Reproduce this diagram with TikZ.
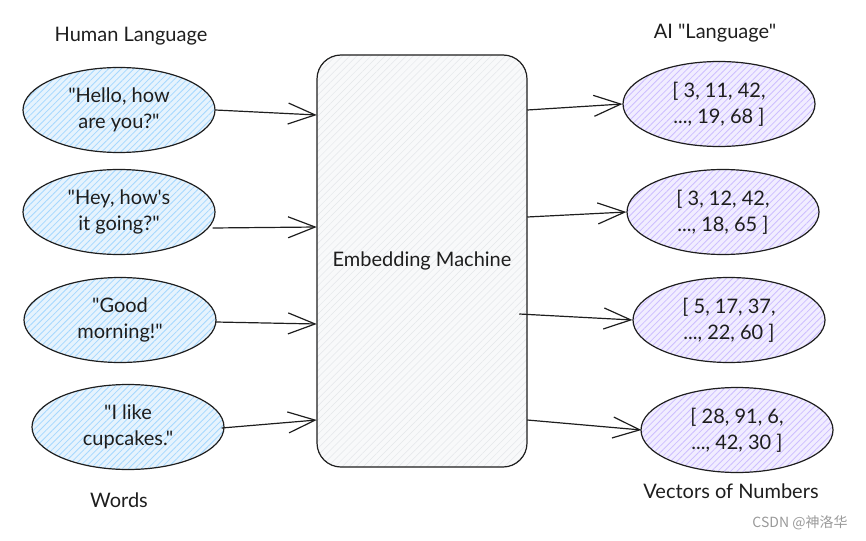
\documentclass[tikz,border=0pt]{standalone}
\usepackage{fontspec}
\setmainfont{Lato}[Ligatures=TeXOff]
\newfontfamily\cjkfont{Noto Sans CJK SC}
\usetikzlibrary{shapes.geometric,arrows.meta,patterns.meta}
\definecolor{ink}{HTML}{1E1E1E}
\definecolor{blueFill}{HTML}{E6F3FD}
\definecolor{blueHatch}{HTML}{A5D8FF}
\definecolor{violetFill}{HTML}{F1EDFF}
\definecolor{violetHatch}{HTML}{CDBEFF}
\definecolor{boxFill}{HTML}{F8F9FA}
\definecolor{boxHatch}{HTML}{E4E7EA}
\definecolor{markGray}{HTML}{999999}
\begin{document}
\begin{tikzpicture}[x=1pt,y=-1pt,
  font=\fontsize{20}{26}\selectfont, text=ink,
  blob/.style={ellipse, draw=ink, line width=1.2pt,
    minimum width=192pt, minimum height=85pt, inner sep=0pt, align=center},
  phrase/.style={blob, preaction={fill=blueFill},
    pattern={Lines[angle=45,distance=4.5pt,line width=0.8pt]}, pattern color=blueHatch},
  vector/.style={blob, preaction={fill=violetFill},
    pattern={Lines[angle=45,distance=4.5pt,line width=0.8pt]}, pattern color=violetHatch},
  machine/.style={draw=ink, line width=1.2pt, rounded corners=24pt,
    minimum width=210pt, minimum height=412pt, preaction={fill=boxFill},
    pattern={Lines[angle=45,distance=5pt,line width=0.5pt]}, pattern color=boxHatch},
  caption/.style={inner sep=0pt},
  arr/.style={draw=ink, line width=1.2pt,
    -{Straight Barb[length=27pt,width=21pt]}},
]
\useasboundingbox (0,0) rectangle (866,540);

% column headings and footers
\node[caption] (tHuman) at (131,36) {Human Language};
\node[caption] (tAI) at (715,33) {AI "Language"};
\node[caption] (tWords) at (119,500) {Words};
\node[caption] (tVectors) at (731,491) {Vectors of Numbers};

% central machine
\node[machine] (em) at (422,261) {Embedding Machine};

% human phrases
\node[phrase] (h1) at (119,110) {"Hello, how\\are you?"};
\node[phrase] (h2) at (119,212) {"Hey, how's\\it going?"};
\node[phrase] (h3) at (120,320) {"Good\\morning!"};
\node[phrase] (h4) at (128,427) {"I like\\cupcakes."};

% embedding vectors
\node[vector] (v1) at (719,104) {[ 3, 11, 42,\\..., 19, 68 ]};
\node[vector] (v2) at (723,212) {[ 3, 12, 42,\\..., 18, 65 ]};
\node[vector] (v3) at (729,320) {[ 5, 17, 37,\\..., 22, 60 ]};
\node[vector] (v4) at (737,430) {[ 28, 91, 6,\\..., 42, 30 ]};

% entry and exit points on the machine's sides
\coordinate (in1) at (em.west |- 0,115);
\coordinate (in2) at (em.west |- 0,227);
\coordinate (in3) at (em.west |- 0,324);
\coordinate (in4) at (em.west |- 0,420);
\coordinate (out1) at (em.east |- 0,110);
\coordinate (out2) at (em.east |- 0,217);
\coordinate (out3) at ([xshift=-8pt]em.east |- 0,314);
\coordinate (out4) at (em.east |- 0,420);

\draw[arr] (h1.east) -- (in1);
\draw[arr] ([xshift=-3pt]h2.east |- 0,228) -- (in2);
\draw[arr] ([xshift=-1pt]h3.east |- 0,322) -- (in3);
\draw[arr] ([xshift=-3pt]h4.east |- 0,428) -- (in4);

\draw[arr] (out1) -- (v1.west);
\draw[arr] (out2) -- (v2.west);
\draw[arr] (out3) -- (v3.west);
\draw[arr] (out4) -- ([xshift=1pt]v4.west);

% watermark
\node[caption, text=markGray, font=\cjkfont\fontsize{14}{16}\selectfont] (mark) at (800,523) {CSDN @神洛华};
\end{tikzpicture}
\end{document}
